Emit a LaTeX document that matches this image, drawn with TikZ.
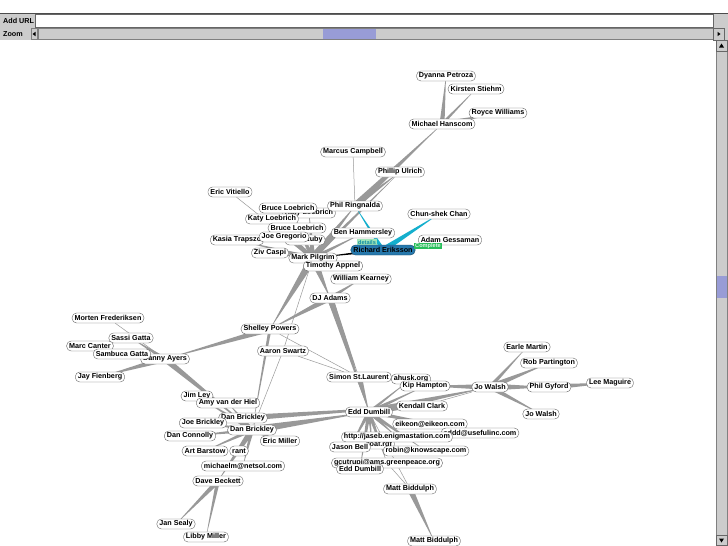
\documentclass[tikz,border=0pt]{standalone}
\usepackage{fontspec}
\setmainfont{Liberation Sans}
\usetikzlibrary{calc, positioning}
\pgfdeclarelayer{canvas}
\pgfdeclarelayer{background}
\pgfsetlayers{canvas,background,main}
\definecolor{panel}{gray}{0.8}
\definecolor{linkgray}{gray}{0.6}
\definecolor{thumb}{RGB}{152,156,214}
\definecolor{selblue}{RGB}{38,120,172}
\definecolor{selcyan}{RGB}{20,175,205}
\definecolor{tagpale}{RGB}{160,230,185}
\definecolor{taggreen}{RGB}{40,190,90}

\begin{document}
\begin{tikzpicture}[
    x=1pt, y=-1pt,
    person/.style={
        rectangle, draw=black!60, fill=white, rounded corners=4.5pt,
        font=\fontsize{7.2}{8}\selectfont\bfseries,
        inner xsep=2.5pt, inner ysep=0.6pt, minimum height=10pt
    },
    picked/.style={person, fill=selblue, draw=selblue!60!black},
    tag/.style={rectangle, inner xsep=1.5pt, inner ysep=0.6pt, font=\fontsize{5.6}{6}\selectfont\bfseries},
    link/.style={fill=linkgray},
    hairline/.style={draw=linkgray, line width=0.5pt},
    ui/.style={font=\fontsize{7.2}{8}\selectfont\bfseries, inner sep=0pt, anchor=west}
]
\useasboundingbox (0,0) rectangle (728,546);
\begin{pgfonlayer}{canvas}
\fill[white] (0,0) rectangle (728,546);
\end{pgfonlayer}

% toolbar
\fill[panel] (0,13) rectangle (728,40);
\draw[black!70] (0,13) -- (728,13);
\node[ui] (addurl) at (3,20.5) {Add URL};
\draw[fill=white, draw=black!60] (35,14.5) rectangle (713,27);
\node[ui] (zoomlbl) at (3,34) {Zoom};
\draw[draw=black!50] (31,28.5) rectangle (37,39.5);
\fill (32.5,34) -- (35.5,31.8) -- (35.5,36.2) -- cycle;
\draw[fill=panel, draw=black!50] (38,28.5) rectangle (713,39.5);
\fill[thumb] (323,29) rectangle (376,39);
\draw[fill=panel, draw=black!60] (713.5,28) rectangle (724,40);
\fill (720.5,34) -- (717.5,31.8) -- (717.5,36.2) -- cycle;

% scrollbar
\draw[fill=panel, draw=black!50] (716,40) rectangle (727,546);
\draw[draw=black!60] (716,40.5) rectangle (727,51);
\fill (721.5,43.5) -- (719,47.5) -- (724,47.5) -- cycle;
\fill[thumb] (716.5,276) rectangle (726.5,298);
\draw[draw=black!60] (716,535) rectangle (727,545.5);
\fill (721.5,542.5) -- (719,538.5) -- (724,538.5) -- cycle;

\node[person] (dyanna)      at (446,76)  {Dyanna Petroza};
\node[person] (kirsten)     at (476,89)  {Kirsten Stiehm};
\node[person] (royce)       at (498,113) {Royce Williams};
\node[person] (hanscom)     at (442,124) {Michael Hanscom};
\node[person] (marcus)      at (353,152) {Marcus Campbell};
\node[person] (phillip)     at (400,172) {Phillip Ulrich};
\node[person] (vitiello)    at (230,192) {Eric Vitiello};
\node[person] (katyA)       at (309,213) {Katy Loebrich};
\node[person] (bruceA)      at (288,208) {Bruce Loebrich};
\node[person] (ringnalda)   at (355,206) {Phil Ringnalda};
\node[person] (katyB)       at (272,219) {Katy Loebrich};
\node[person] (bruceB)      at (297,228) {Bruce Loebrich};
\node[person] (hammersley)  at (363,233) {Ben Hammersley};
\node[person] (chan)        at (439,214) {Chun-shek Chan};
\node[person] (kasia)       at (237,240) {Kasia Trapszo};
\node[person] (ruby)        at (305,240) {Sam Ruby};
\node[person] (gregorio)    at (284,237) {Joe Gregorio};
\node[person] (gessaman)    at (450,240) {Adam Gessaman};
\node[tag, fill=tagpale, text=selcyan!80!black] (details) at (367,242) {details};
\node[picked] (eriksson)    at (383,250) {Richard Eriksson};
\node[tag, fill=taggreen, text=white!85!taggreen] (complete) at (428,246) {Complete};
\node[person] (caspi)       at (270,253) {Ziv Caspi};
\node[person] (pilgrim)     at (313,258) {Mark Pilgrim};
\node[person] (appnel)      at (333,266) {Timothy Appnel};
\node[person] (kearney)     at (361,279) {William Kearney};
\node[person] (djadams)     at (330,298) {DJ Adams};

\node[person] (morten)      at (108,318) {Morten Frederiksen};
\node[person] (sassi)       at (131,338) {Sassi Gatta};
\node[person] (canter)      at (90,346)  {Marc Canter};
\node[person] (ayers)       at (165,359) {Danny Ayers};
\node[person] (sambuca)     at (122,354) {Sambuca Gatta};
\node[person] (fienberg)    at (100,377) {Jay Fienberg};
\node[person] (powers)      at (270,329) {Shelley Powers};
\node[person] (swartz)      at (283,351) {Aaron Swartz};

\node[person] (husk)        at (411,379) {ahusk.org};
\node[person] (stlaurent)   at (359,377) {Simon St.Laurent};
\node[person] (kip)         at (425,386) {Kip Hampton};
\node[person] (kendall)     at (422,406) {Kendall Clark};
\node[person] (walsh)       at (490,387) {Jo Walsh};
\node[person] (earle)       at (527,347) {Earle Martin};
\node[person] (partington)  at (549,363) {Rob Partington};
\node[person] (gyford)      at (549,387) {Phil Gyford};
\node[person] (maguire)     at (610,383) {Lee Maguire};
\node[person] (walshB)      at (541,414) {Jo Walsh};

\node[person] (jimley)      at (197,396) {Jim Ley};
\node[person] (amy)         at (228,403) {Amy van der Hiel};
\node[person] (brickleyB)   at (243,418) {Dan Brickley};
\node[person] (joebrickley) at (203,423) {Joe Brickley};
\node[person] (brickley)    at (252,430) {Dan Brickley};
\node[person] (connolly)    at (190,436) {Dan Connolly};
\node[person] (ericmiller)  at (280,441) {Eric Miller};
\node[person] (grant)       at (239,451) {rant};
\node[person] (barstow)     at (205,451) {Art Barstow};
\node[person] (michaelm)    at (243,466) {michaelm@netsol.com};
\node[person] (beckett)     at (218,481) {Dave Beckett};
\node[person] (sealy)       at (176,524) {Jan Sealy};
\node[person] (libby)       at (206,537) {Libby Miller};

\node[person] (dumbill)     at (369,412) {Edd Dumbill};
\node[person] (eikeon)      at (430,424) {eikeon@eikeon.com};
\node[person] (eddd)        at (480,433) {eddd@usefulinc.com};
\node[person] (foaf)        at (372,444) {foaf/foaf.rdf};
\node[person] (jaseb)       at (397,437) {http://jaseb.enigmastation.com};
\node[person] (jasonbell)   at (350,447) {Jason Bell};
\node[person] (robin)       at (426,451) {robin@knowscape.com};
\node[person] (gcutrupi)    at (387,463) {gcutrupi@ams.greenpeace.org};
\node[person] (dumbillB)    at (360,469) {Edd Dumbill};
\node[person] (biddulph)    at (410,489) {Matt Biddulph};
\node[person] (biddulphB)   at (434,541) {Matt Biddulph};

\begin{pgfonlayer}{background}
\foreach \a/\b/\w in {
    hanscom/dyanna/2.5pt, hanscom/kirsten/1.5pt, hanscom/royce/2.5pt,
    ringnalda/hanscom/3.5pt, ringnalda/phillip/2.5pt, pilgrim/phillip/2pt,
    pilgrim/ringnalda/4pt, pilgrim/bruceA/2pt, pilgrim/katyA/2.5pt,
    pilgrim/katyB/2pt, pilgrim/bruceB/2pt, pilgrim/kasia/2pt,
    pilgrim/caspi/2pt, pilgrim/gregorio/2pt, pilgrim/ruby/2pt,
    pilgrim/hammersley/2pt, pilgrim/appnel/2pt, pilgrim/powers/4pt,
    pilgrim/djadams/4pt, djadams/kearney/2pt, djadams/powers/3pt,
    djadams/stlaurent/3pt, djadams/dumbill/3pt,
    powers/ayers/3pt, powers/brickley/1.5pt,
    ayers/sassi/2pt, ayers/canter/2pt, ayers/sambuca/1.5pt,
    ayers/fienberg/3pt, ayers/brickley/3pt,
    stlaurent/dumbill/3pt,
    dumbill/kip/2pt, dumbill/kendall/3pt, dumbill/husk/1.5pt,
    dumbill/walsh/4pt, dumbill/eikeon/2pt, dumbill/eddd/2pt,
    dumbill/jaseb/2pt, dumbill/foaf/1.5pt, dumbill/jasonbell/2pt,
    dumbill/robin/2pt, dumbill/gcutrupi/2pt, dumbill/dumbillB/2pt,
    walsh/earle/2pt, walsh/partington/3pt, walsh/gyford/3.5pt,
    walsh/walshB/2.5pt, walsh/kip/3pt, gyford/maguire/3pt,
    brickley/dumbill/4pt, brickleyB/kendall/3pt,
    brickley/jimley/2pt, brickley/amy/2pt, brickley/brickleyB/2pt,
    brickley/joebrickley/2pt, brickley/connolly/2pt, brickley/ericmiller/2pt,
    brickley/barstow/2pt, brickley/grant/2pt, brickley/michaelm/2pt,
    brickley/beckett/3pt, beckett/sealy/2.5pt, beckett/libby/2pt,
    biddulph/biddulphB/3pt}
  \fill[link] ($(\a.center)!\w!90:(\b.center)$) -- ($(\a.center)!\w!-90:(\b.center)$) -- (\b.center) -- cycle;
\foreach \a/\b in {marcus/ringnalda, pilgrim/vitiello, pilgrim/swartz, ayers/morten,
    powers/stlaurent, swartz/brickley, swartz/stlaurent, dumbill/biddulph,
    biddulph/gcutrupi, kendall/walsh}
  \draw[hairline] (\a) -- (\b);
\foreach \a/\b/\w in {eriksson/ringnalda/2pt, eriksson/chan/3pt}
  \fill[selcyan] ($(\a.center)!\w!90:(\b.center)$) -- ($(\a.center)!\w!-90:(\b.center)$) -- (\b.center) -- cycle;
\fill[black] ($(eriksson.center)!1.5pt!90:(pilgrim.center)$) -- ($(eriksson.center)!1.5pt!-90:(pilgrim.center)$) -- (pilgrim.center) -- cycle;
\end{pgfonlayer}

\end{tikzpicture}
\end{document}
